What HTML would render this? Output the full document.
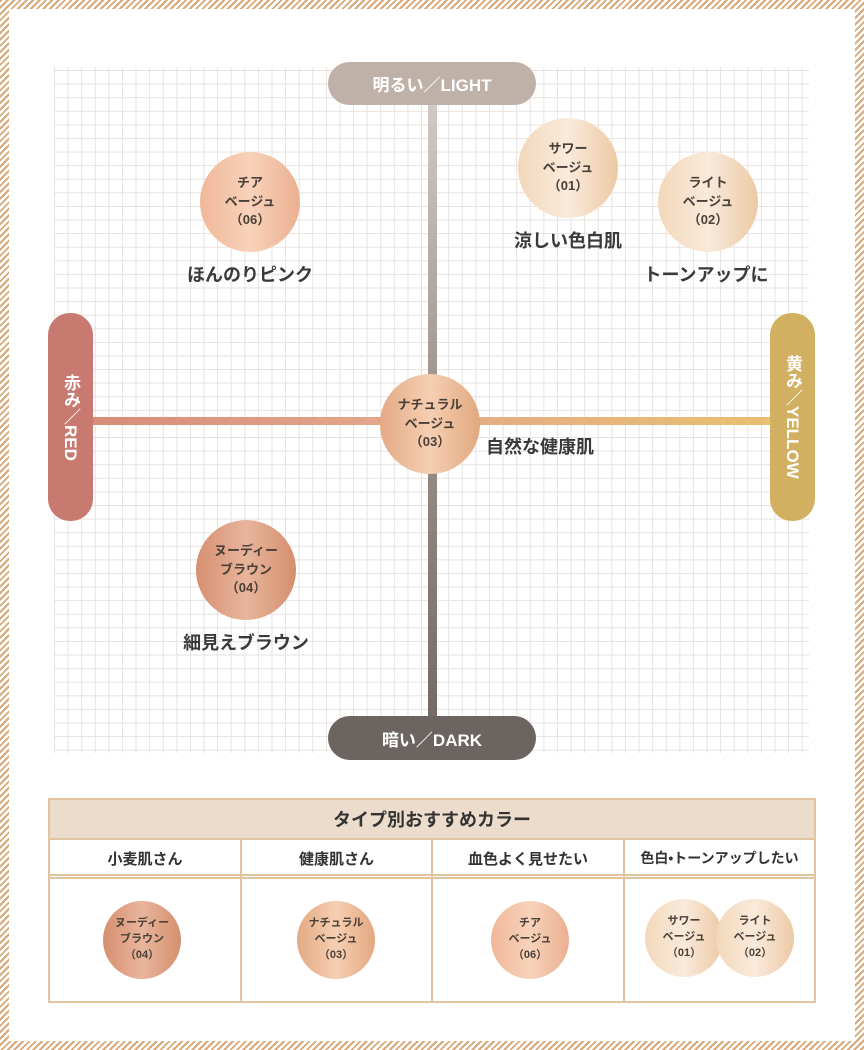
<!DOCTYPE html>
<html><head><meta charset="utf-8"><style>
*{margin:0;padding:0;box-sizing:border-box}
body{width:864px;height:1050px;position:relative;background:#fff;overflow:hidden;font-family:"Liberation Sans","Noto Sans CJK JP",sans-serif;color:#333}
.frame{position:absolute;left:0;top:0;width:864px;height:1050px;background:repeating-linear-gradient(135deg,#d9a878 0 2px,#fff 2px 4.5px)}
.inner{position:absolute;left:9px;top:9px;width:846px;height:1032px;background:#fff}
.grid{position:absolute;left:54px;top:67px;width:755px;height:686px;background-image:linear-gradient(#e6e2df 1px,transparent 1px),linear-gradient(90deg,#e6e2df 1px,transparent 1px);background-size:13.6px 13.6px;background-position:0 3px}
.abs{position:absolute}
.pill{position:absolute;color:#fff;font-weight:bold;font-size:17px;display:flex;align-items:center;justify-content:center;border-radius:22px}
.c{position:absolute;border-radius:50%;display:flex;align-items:center;justify-content:center;text-align:center;font-weight:bold;color:#4a4038;line-height:1.45}
.lab{position:absolute;font-size:18px;font-weight:bold;color:#3a3a3a;white-space:nowrap;transform:translateX(-50%)}
.pink{background:linear-gradient(90deg,#f0b898,#f8d2bb 50%,#eab090)}
.pale{background:linear-gradient(90deg,#f2d8bb,#faeadb 50%,#ecc9a5)}
.nat{background:linear-gradient(90deg,#e3aa84,#f5cfb2 50%,#e2a87f)}
.brn{background:linear-gradient(90deg,#d68f70,#e8b59c 50%,#d48f6d)}
.th{position:absolute;top:842px;height:32px;display:flex;align-items:center;justify-content:center;font-size:15px;font-weight:bold;color:#333}
</style></head><body>
<div class="frame"></div><div class="inner"></div>
<div class="grid"></div>
<div class="abs" style="left:428px;top:100px;width:9px;height:620px;background:linear-gradient(#d2cac6,#9d918a 50%,#756a64)"></div>
<div class="abs" style="left:90px;top:417px;width:684px;height:8px;background:linear-gradient(90deg,#d88c78,#e4a88a 45%,#e8c070)"></div>
<div class="pill" style="left:328px;top:62px;width:208px;height:43px;background:#bfb1a7">明るい／LIGHT</div>
<div class="pill" style="left:328px;top:716px;width:208px;height:44px;background:#6b6460">暗い／DARK</div>
<div class="pill" style="left:48px;top:313px;width:45px;height:208px;background:#c97a70;writing-mode:vertical-rl">赤み／RED</div>
<div class="pill" style="left:770px;top:313px;width:45px;height:208px;background:#d2b062;writing-mode:vertical-rl">黄み／YELLOW</div>

<div class="c pink" style="left:200px;top:152px;width:100px;height:100px;font-size:13px">チア<br>ベージュ<br>（06）</div>
<div class="c pale" style="left:518px;top:118px;width:100px;height:100px;font-size:13px">サワー<br>ベージュ<br>（01）</div>
<div class="c pale" style="left:658px;top:152px;width:100px;height:100px;font-size:13px">ライト<br>ベージュ<br>（02）</div>
<div class="c nat" style="left:380px;top:374px;width:100px;height:100px;font-size:13px">ナチュラル<br>ベージュ<br>（03）</div>
<div class="c brn" style="left:196px;top:520px;width:100px;height:100px;font-size:13px">ヌーディー<br>ブラウン<br>（04）</div>

<div class="lab" style="left:250px;top:261px">ほんのりピンク</div>
<div class="lab" style="left:568px;top:227px">涼しい色白肌</div>
<div class="lab" style="left:706px;top:261px">トーンアップに</div>
<div class="lab" style="left:486px;top:433px;transform:none">自然な健康肌</div>
<div class="lab" style="left:246px;top:629px">細見えブラウン</div>

<div class="abs" style="left:48px;top:798px;width:768px;height:205px;border:2px solid #e2c3a2"></div>
<div class="abs" style="left:50px;top:800px;width:764px;height:40px;background:#ecdccb;border-bottom:2px solid #e2c3a2;display:flex;align-items:center;justify-content:center;font-size:18px;font-weight:bold;color:#333">タイプ別おすすめカラー</div>
<div class="abs" style="left:50px;top:874px;width:764px;height:5px;border-top:2px solid #e2c3a2;border-bottom:2px solid #e2c3a2"></div>
<div class="abs" style="left:240px;top:840px;width:2px;height:162px;background:#e2c3a2"></div>
<div class="abs" style="left:431px;top:840px;width:2px;height:162px;background:#e2c3a2"></div>
<div class="abs" style="left:623px;top:840px;width:2px;height:162px;background:#e2c3a2"></div>
<div class="th" style="left:50px;width:190px">小麦肌さん</div>
<div class="th" style="left:242px;width:189px">健康肌さん</div>
<div class="th" style="left:433px;width:190px">血色よく見せたい</div>
<div class="th" style="left:625px;width:189px;font-size:14px">色白•トーンアップしたい</div>

<div class="c brn" style="left:103px;top:901px;width:78px;height:78px;font-size:11px">ヌーディー<br>ブラウン<br>（04）</div>
<div class="c nat" style="left:297px;top:901px;width:78px;height:78px;font-size:11px">ナチュラル<br>ベージュ<br>（03）</div>
<div class="c pink" style="left:491px;top:901px;width:78px;height:78px;font-size:11px">チア<br>ベージュ<br>（06）</div>
<div class="c pale" style="left:645px;top:899px;width:78px;height:78px;font-size:11px">サワー<br>ベージュ<br>（01）</div>
<div class="c pale" style="left:716px;top:899px;width:78px;height:78px;font-size:11px">ライト<br>ベージュ<br>（02）</div>
</body></html>
